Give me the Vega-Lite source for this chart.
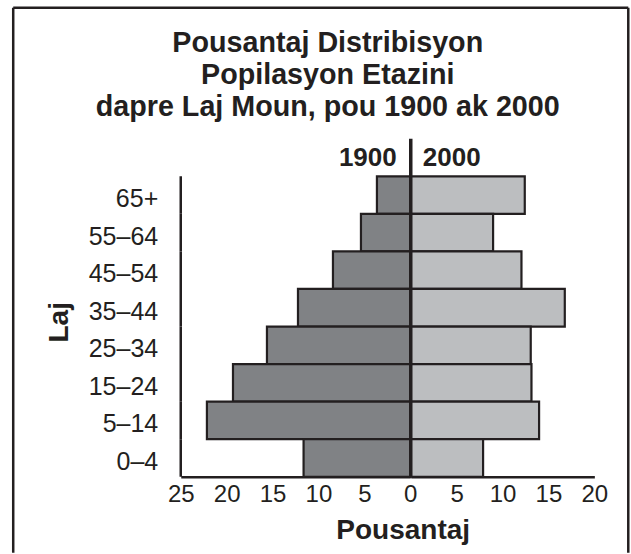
{
  "$schema": "https://vega.github.io/schema/vega-lite/v6.json",
  "padding": {"left": 11.75, "top": 5.75, "right": 0, "bottom": 0},
  "autosize": {"type": "pad"},
  "background": "white",
  "title": {
    "text": ["Pousantaj Distribisyon", "Popilasyon Etazini", "dapre Laj Moun, pou 1900 ak 2000"],
    "font": "Liberation Sans",
    "fontSize": 28.7,
    "fontWeight": "bold",
    "lineHeight": 32,
    "color": "#231f20",
    "anchor": "middle",
    "frame": "bounds",
    "offset": -115,
    "dx": 7
  },
  "data": {
    "values": [
      {"age": "65+", "year": "1900", "pct": 3.63},
      {"age": "55–64", "year": "1900", "pct": 5.37},
      {"age": "45–54", "year": "1900", "pct": 8.42},
      {"age": "35–44", "year": "1900", "pct": 12.23},
      {"age": "25–34", "year": "1900", "pct": 15.61},
      {"age": "15–24", "year": "1900", "pct": 19.31},
      {"age": "5–14", "year": "1900", "pct": 22.15},
      {"age": "0–4", "year": "1900", "pct": 11.62},
      {"age": "65+", "year": "2000", "pct": 12.42},
      {"age": "55–64", "year": "2000", "pct": 8.97},
      {"age": "45–54", "year": "2000", "pct": 12.06},
      {"age": "35–44", "year": "2000", "pct": 16.78},
      {"age": "25–34", "year": "2000", "pct": 13.07},
      {"age": "15–24", "year": "2000", "pct": 13.15},
      {"age": "5–14", "year": "2000", "pct": 13.98},
      {"age": "0–4", "year": "2000", "pct": 7.88}
    ]
  },
  "spacing": 0,
  "bounds": "flush",
  "hconcat": [
    {
      "width": 229.5,
      "height": 338,
      "transform": [{"filter": "datum.year == '1900'"}],
      "resolve": {"scale": {"y": "independent"}},
      "layer": [
        {
          "mark": {"type": "bar", "fill": "#808285", "stroke": "#231f20", "strokeWidth": 2.2},
          "encoding": {
            "x": {
              "field": "pct", "type": "quantitative",
              "scale": {"domain": [0, 25], "reverse": true, "nice": false, "zero": true},
              "axis": {
                "values": [25, 20, 15, 10, 5, 0], "title": "Pousantaj", "grid": false,
                "ticks": false, "tickSize": 0, "labelFlush": false, "labelOverlap": false,
                "labelFontSize": 24, "labelColor": "#231f20", "labelPadding": 6,
                "domainColor": "#231f20", "domainWidth": 2.5,
                "titleFontSize": 28, "titleFontWeight": "bold", "titleColor": "#231f20",
                "titleX": 222, "titleY": 62, "titleBaseline": "alphabetic", "titleAlign": "center"
              }
            },
            "y": {
              "field": "age", "type": "nominal",
              "scale": {"domain": [" ", "65+", "55–64", "45–54", "35–44", "25–34", "15–24", "5–14", "0–4"], "paddingInner": 0, "paddingOuter": 0},
              "axis": {
                "title": "Laj", "domain": false, "ticks": false, "tickSize": 0, "grid": false,
                "labelFontSize": 25, "labelPadding": 23, "labelColor": "#231f20", "labelOffset": 4,
                "titleFontSize": 28, "titleFontWeight": "bold", "titleColor": "#231f20",
                "titleAngle": 270, "titleX": -113, "titleY": 183, "titleBaseline": "alphabetic", "titleAlign": "center"
              }
            }
          }
        },
        {
          "mark": {"type": "rect", "filled": false, "stroke": "#231f20", "strokeWidth": 2.5},
          "encoding": {
            "x": {"datum": 25, "type": "quantitative"},
            "x2": {"datum": 25},
            "y": {
              "field": "age", "type": "nominal",
              "scale": {"domain": [" ", "65+", "55–64", "45–54", "35–44", "25–34", "15–24", "5–14", "0–4"], "paddingInner": 0, "paddingOuter": 0},
              "axis": null
            }
          }
        },
        {
          "data": {"values": [{}]},
          "mark": {"type": "rule", "stroke": "#231f20", "strokeWidth": 2.5},
          "encoding": {
            "x": {"datum": 43.25, "type": "quantitative"},
            "y": {"datum": 1.3876, "type": "quantitative", "scale": {"domain": [0, 1], "nice": false}, "axis": null},
            "y2": {"datum": -0.2249}
          }
        },
        {
          "data": {"values": [{}]},
          "mark": {"type": "rule", "stroke": "#231f20", "strokeWidth": 2.5},
          "encoding": {
            "x": {"datum": -23.75, "type": "quantitative"},
            "y": {"datum": 1.3876, "type": "quantitative", "scale": {"domain": [0, 1], "nice": false}, "axis": null},
            "y2": {"datum": -0.2249}
          }
        },
        {
          "data": {"values": [{}]},
          "mark": {"type": "rule", "stroke": "#231f20", "strokeWidth": 2.5},
          "encoding": {
            "x": {"datum": 43.25, "type": "quantitative"},
            "x2": {"datum": -23.75},
            "y": {"datum": 1.3876, "type": "quantitative", "scale": {"domain": [0, 1], "nice": false}, "axis": null}
          }
        }
      ]
    },
    {
      "width": 183.6,
      "height": 338,
      "transform": [{"filter": "datum.year == '2000'"}],
      "layer": [
        {
          "mark": {"type": "bar", "fill": "#bcbec0", "stroke": "#231f20", "strokeWidth": 2.2},
          "encoding": {
            "x": {
              "field": "pct", "type": "quantitative",
              "scale": {"domain": [0, 20], "nice": false, "zero": true},
              "axis": {
                "values": [5, 10, 15, 20], "title": null, "grid": false,
                "ticks": false, "tickSize": 0, "labelFlush": false, "labelOverlap": false,
                "labelFontSize": 24, "labelColor": "#231f20", "labelPadding": 6,
                "domainColor": "#231f20", "domainWidth": 2.5
              }
            },
            "y": {
              "field": "age", "type": "nominal",
              "scale": {"domain": [" ", "65+", "55–64", "45–54", "35–44", "25–34", "15–24", "5–14", "0–4"], "paddingInner": 0, "paddingOuter": 0},
              "axis": null
            }
          }
        },
        {
          "data": {"values": [{"label": "1900"}]},
          "mark": {"type": "text", "align": "right", "baseline": "middle", "dx": -14, "fontSize": 26, "fontWeight": "bold", "color": "#231f20"},
          "encoding": {
            "x": {"datum": 0, "type": "quantitative"},
            "y": {"datum": " ", "type": "nominal"},
            "text": {"field": "label"}
          }
        },
        {
          "data": {"values": [{"label": "2000"}]},
          "mark": {"type": "text", "align": "left", "baseline": "middle", "dx": 12, "fontSize": 26, "fontWeight": "bold", "color": "#231f20"},
          "encoding": {
            "x": {"datum": 0, "type": "quantitative"},
            "y": {"datum": " ", "type": "nominal"},
            "text": {"field": "label"}
          }
        },
        {
          "data": {"values": [{}]},
          "mark": {"type": "rule", "stroke": "#231f20", "strokeWidth": 3.5},
          "encoding": {
            "x": {"datum": 0, "type": "quantitative"}
          }
        }
      ]
    }
  ],
  "config": {
    "view": {"stroke": null},
    "font": "Liberation Sans"
  }
}
